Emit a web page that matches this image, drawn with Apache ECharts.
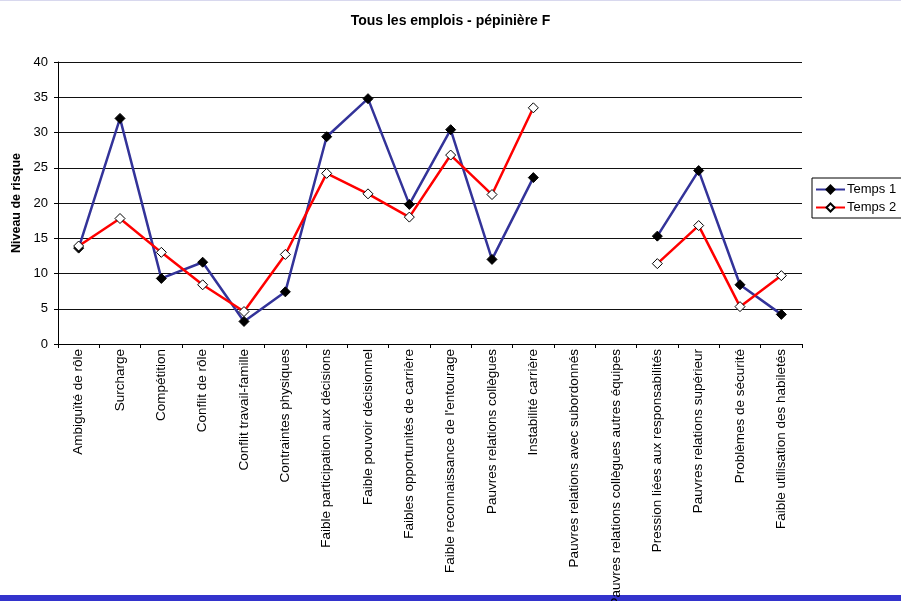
<!DOCTYPE html>
<html>
<head>
<meta charset="utf-8">
<script src="https://cdn.jsdelivr.net/npm/echarts@6/dist/echarts.min.js"></script>
<style>
  html, body { margin: 0; padding: 0; background: #fff; }
  #chart { width: 901px; height: 601px; }
</style>
</head>
<body>
<div id="chart"></div>
<script>
// Risk factors on the horizontal axis
const categories = [
  "Ambiguïté de rôle",
  "Surcharge",
  "Compétition",
  "Conflit de rôle",
  "Conflit travail-famille",
  "Contraintes physiques",
  "Faible participation aux décisions",
  "Faible pouvoir décisionnel",
  "Faibles opportunités de carrière",
  "Faible reconnaissance de l'entourage",
  "Pauvres relations collègues",
  "Instabilité carrière",
  "Pauvres relations avec subordonnés",
  "Pauvres relations collègues autres équipes",
  "Pression liées aux responsabilités",
  "Pauvres relations supérieur",
  "Problèmes de sécurité",
  "Faible utilisation des habiletés"
];

// Risk level, first measurement
const temps1 = [13.6, 32.0, 9.3, 11.6, 3.2, 7.4, 29.4, 34.8, 19.8, 30.4, 12.0, 23.6, null, null, 15.3, 24.6, 8.4, 4.2];

// Risk level, second measurement
const temps2 = [13.9, 17.8, 13.0, 8.4, 4.6, 12.7, 24.2, 21.3, 18.0, 26.8, 21.2, 33.5, null, null, 11.4, 16.8, 5.3, 9.7];

const yTicks = { min: 0, max: 40, step: 5 };

const FONT = "Liberation Sans, Arial, sans-serif";

const chart = echarts.init(document.getElementById("chart"), null, { renderer: "canvas" });

chart.setOption({
  backgroundColor: "#ffffff",
  animation: false,
  textStyle: { fontFamily: FONT, color: "#000" },
  title: {
    text: "Tous les emplois - pépinière F",
    left: "center",
    top: 9,
    textStyle: { fontFamily: FONT, fontSize: 14, fontWeight: "bold", color: "#000" }
  },
  legend: {
    orient: "vertical",
    left: 812,
    top: 178,
    padding: [5, 8, 4, 3],
    itemGap: 5,
    itemWidth: 29,
    itemHeight: 10,
    borderColor: "#000",
    borderWidth: 1,
    backgroundColor: "#fff",
    textStyle: { fontFamily: FONT, fontSize: 13, color: "#000", padding: [0, 0, 0, -3] },
    data: ["Temps 1", "Temps 2"]
  },
  grid: {
    left: 58, right: 99, top: 62, bottom: 257,
    containLabel: false,
    outerBoundsMode: "none"
  },
  xAxis: {
    type: "category",
    data: categories,
    boundaryGap: true,
    axisLine: { lineStyle: { color: "#000", width: 1 } },
    axisTick: { show: true, length: 4, lineStyle: { color: "#000" } },
    axisLabel: {
      interval: 0,
      rotate: 90,
      margin: 5,
      fontFamily: FONT,
      fontSize: 13.5,
      color: "#000"
    }
  },
  yAxis: {
    type: "value",
    min: yTicks.min,
    max: yTicks.max,
    interval: yTicks.step,
    name: "Niveau de risque",
    nameLocation: "middle",
    nameRotate: 90,
    nameGap: 33,
    nameTextStyle: { fontFamily: FONT, fontSize: 12.5, fontWeight: "bold", color: "#000" },
    axisLine: { show: true, lineStyle: { color: "#000", width: 1 } },
    axisTick: { show: true, length: 4, lineStyle: { color: "#000" } },
    axisLabel: { fontFamily: FONT, fontSize: 13, color: "#000", margin: 10 },
    splitLine: { show: true, lineStyle: { color: "#111", width: 1 } }
  },
  series: [
    {
      name: "Temps 1",
      type: "line",
      data: temps1,
      connectNulls: false,
      symbol: "diamond",
      symbolSize: 10,
      lineStyle: { color: "#333399", width: 2.5 },
      itemStyle: { color: "#000", borderColor: "#000", borderWidth: 1 },
      z: 2
    },
    {
      name: "Temps 2",
      type: "line",
      data: temps2,
      connectNulls: false,
      symbol: "diamond",
      symbolSize: 10,
      lineStyle: { color: "#ff0000", width: 2.5 },
      itemStyle: { color: "#fff", borderColor: "#000", borderWidth: 1 },
      z: 3
    }
  ],
  graphic: [
    {
      type: "rect",
      z: -10,
      silent: true,
      shape: { x: 0, y: 595, width: 901, height: 6 },
      style: { fill: "#3333cc" }
    },
    {
      type: "rect",
      z: -10,
      silent: true,
      shape: { x: 0, y: 0, width: 901, height: 1 },
      style: { fill: "#d8d8ee" }
    }
  ]
});
</script>
</body>
</html>
